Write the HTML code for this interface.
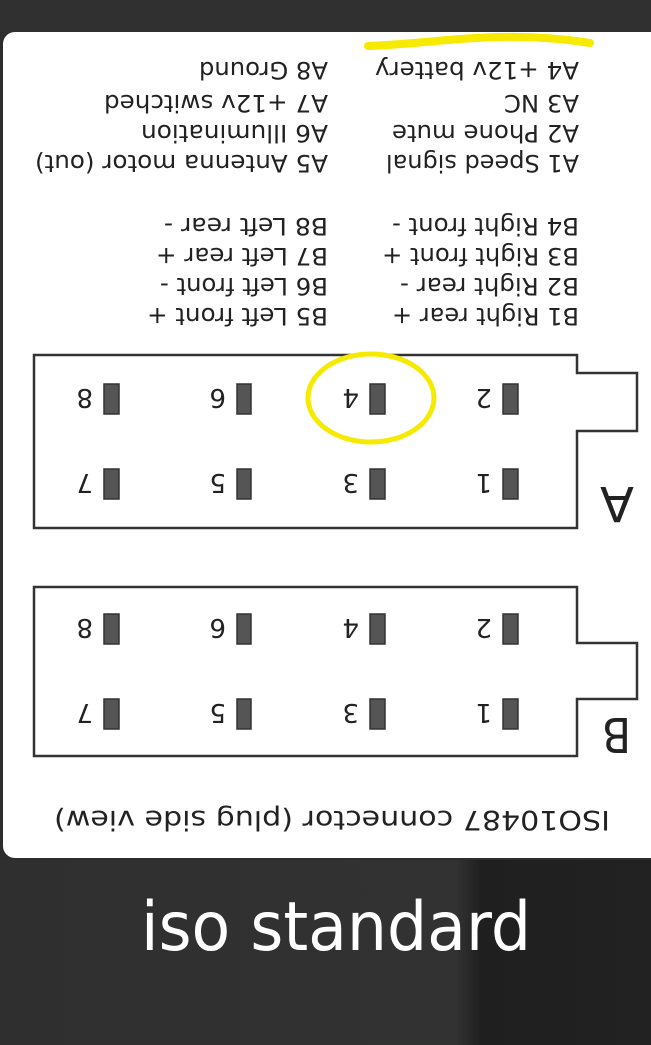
<!DOCTYPE html>
<html><head><meta charset="utf-8"><style>
html,body{margin:0;padding:0;background:#2d2d2d;}
svg{display:block;}
.t{font-family:"DejaVu Sans","Liberation Sans",sans-serif;font-size:24px;fill:#222;}
.d{font-family:"DejaVu Sans","Liberation Sans",sans-serif;font-size:26px;fill:#222;}
</style></head><body>
<svg width="651" height="1045" viewBox="0 0 651 1045" xmlns="http://www.w3.org/2000/svg">
<defs>
<linearGradient id="bg" x1="0" y1="0" x2="1" y2="0">
<stop offset="0" stop-color="#2f2f2f"/><stop offset="0.7" stop-color="#323232"/><stop offset="0.74" stop-color="#1f1f1f"/><stop offset="1" stop-color="#222"/>
</linearGradient>
</defs>
<rect x="0" y="0" width="651" height="1045" fill="#2d2d2d"/>
<rect x="0" y="860" width="651" height="185" fill="url(#bg)"/>
<rect x="0" y="0" width="651" height="32" fill="#303030"/>
<rect x="3" y="32" width="660" height="826" rx="12" fill="#fff"/>

<g class="t">
<text transform="translate(579,62) rotate(180)" textLength="204" lengthAdjust="spacingAndGlyphs">A4 +12v battery</text>
<text transform="translate(579,95) rotate(180)" textLength="75" lengthAdjust="spacingAndGlyphs">A3 NC</text>
<text transform="translate(579,125) rotate(180)" textLength="187" lengthAdjust="spacingAndGlyphs">A2 Phone mute</text>
<text transform="translate(579,155) rotate(180)" textLength="193" lengthAdjust="spacingAndGlyphs">A1 Speed signal</text>
<text transform="translate(328,62) rotate(180)" textLength="129" lengthAdjust="spacingAndGlyphs">A8 Ground</text>
<text transform="translate(328,95) rotate(180)" textLength="224" lengthAdjust="spacingAndGlyphs">A7 +12v switched</text>
<text transform="translate(328,125) rotate(180)" textLength="187" lengthAdjust="spacingAndGlyphs">A6 Illumination</text>
<text transform="translate(328,155) rotate(180)" textLength="293" lengthAdjust="spacingAndGlyphs">A5 Antenna motor (out)</text>
<text transform="translate(579,218) rotate(180)" textLength="187" lengthAdjust="spacingAndGlyphs">B4 Right front -</text>
<text transform="translate(579,248) rotate(180)" textLength="197" lengthAdjust="spacingAndGlyphs">B3 Right front +</text>
<text transform="translate(579,278) rotate(180)" textLength="179" lengthAdjust="spacingAndGlyphs">B2 Right rear -</text>
<text transform="translate(579,308) rotate(180)" textLength="187" lengthAdjust="spacingAndGlyphs">B1 Right rear +</text>
<text transform="translate(328,218) rotate(180)" textLength="164" lengthAdjust="spacingAndGlyphs">B8 Left rear -</text>
<text transform="translate(328,248) rotate(180)" textLength="172" lengthAdjust="spacingAndGlyphs">B7 Left rear +</text>
<text transform="translate(328,278) rotate(180)" textLength="168" lengthAdjust="spacingAndGlyphs">B6 Left front -</text>
<text transform="translate(328,308) rotate(180)" textLength="181" lengthAdjust="spacingAndGlyphs">B5 Left front +</text>
<text transform="translate(610,811) rotate(180)" textLength="556" lengthAdjust="spacingAndGlyphs" style="font-size:27px">ISO10487 connector (plug side view)</text>
</g>

<path d="M34,355 H577 V373 H637 V431 H577 V528 H34 Z" fill="none" stroke="#333" stroke-width="2.5"/>
<path d="M34,587 H577 V643 H637 V699 H577 V756 H34 Z" fill="none" stroke="#333" stroke-width="2.5"/>
<text class="d" transform="translate(634,487) rotate(180)" style="font-size:48px" textLength="34" lengthAdjust="spacingAndGlyphs">A</text>
<text class="d" transform="translate(631,718) rotate(180)" style="font-size:48px" textLength="29" lengthAdjust="spacingAndGlyphs">B</text>

<g fill="#555" stroke="#333" stroke-width="1.5">
<rect x="104" y="384" width="15" height="30"/><rect x="237" y="384" width="14" height="30"/><rect x="370" y="384" width="15" height="30"/><rect x="503" y="384" width="15" height="30"/>
<rect x="104" y="469" width="15" height="30"/><rect x="237" y="469" width="14" height="30"/><rect x="370" y="469" width="15" height="30"/><rect x="503" y="469" width="15" height="30"/>
<rect x="104" y="614" width="15" height="30"/><rect x="237" y="614" width="14" height="30"/><rect x="370" y="614" width="15" height="30"/><rect x="503" y="614" width="15" height="30"/>
<rect x="104" y="699" width="15" height="30"/><rect x="237" y="699" width="14" height="30"/><rect x="370" y="699" width="15" height="30"/><rect x="503" y="699" width="15" height="30"/>
</g>
<g class="d">
<text transform="translate(93,389) rotate(180)">8</text><text transform="translate(226,389) rotate(180)">6</text><text transform="translate(359,389) rotate(180)">4</text><text transform="translate(492,389) rotate(180)">2</text>
<text transform="translate(93,474) rotate(180)">7</text><text transform="translate(226,474) rotate(180)">5</text><text transform="translate(359,474) rotate(180)">3</text><text transform="translate(492,474) rotate(180)">1</text>
<text transform="translate(93,619) rotate(180)">8</text><text transform="translate(226,619) rotate(180)">6</text><text transform="translate(359,619) rotate(180)">4</text><text transform="translate(492,619) rotate(180)">2</text>
<text transform="translate(93,704) rotate(180)">7</text><text transform="translate(226,704) rotate(180)">5</text><text transform="translate(359,704) rotate(180)">3</text><text transform="translate(492,704) rotate(180)">1</text>
</g>

<path d="M368,46 C420,44 450,38 500,37 C540,36 570,40 590,43" fill="none" stroke="#f5ea00" stroke-width="8" stroke-linecap="round"/>
<ellipse cx="371" cy="398" rx="63" ry="44" fill="none" stroke="#f5ea00" stroke-width="5"/>

<text x="141" y="950" textLength="390" lengthAdjust="spacingAndGlyphs" style="font-family:'DejaVu Sans','Liberation Sans',sans-serif;font-size:68px;fill:#fff">iso standard</text>
</svg>
</body></html>
